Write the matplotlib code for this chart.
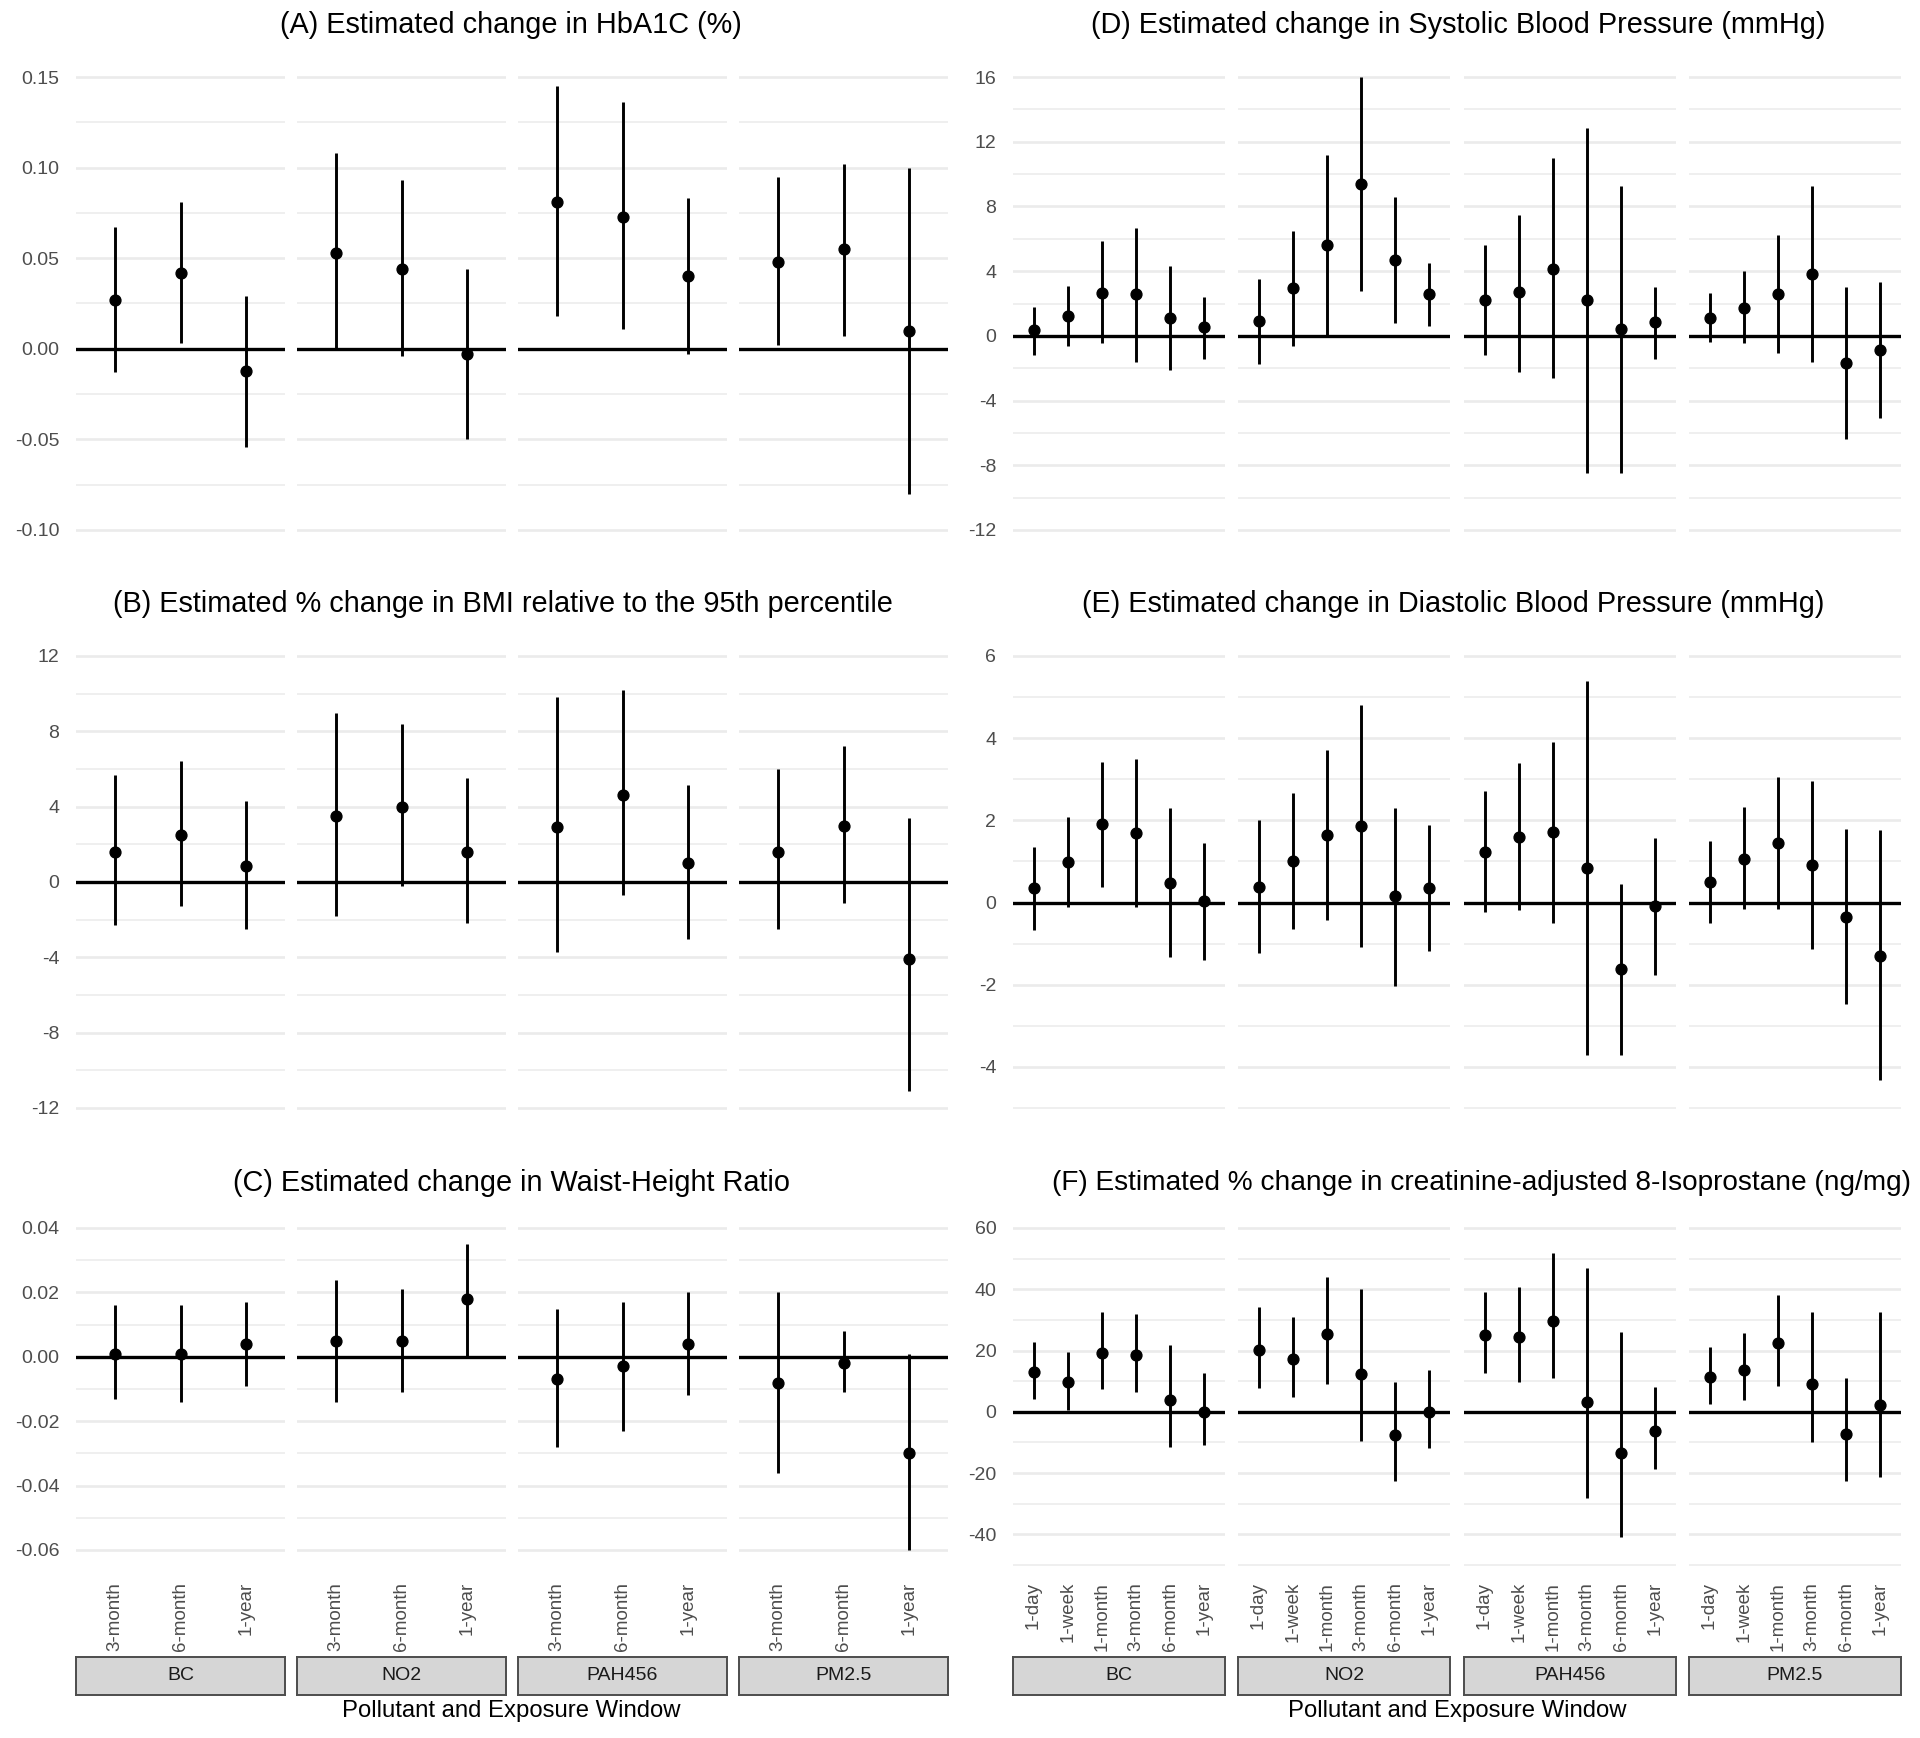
import matplotlib.pyplot as plt

plt.rcParams['font.family'] = ['Liberation Sans', 'DejaVu Sans']

pollutants = ['BC', 'NO2', 'PAH456', 'PM2.5']
win_long = ['3-month', '6-month', '1-year']
win_short = ['1-day', '1-week', '1-month', '3-month', '6-month', '1-year']

# (A) HbA1C, one row per pollutant, columns = win_long
hba1c_est = [[0.027, 0.042, -0.012], [0.053, 0.044, -0.003], [0.081, 0.073, 0.040], [0.048, 0.055, 0.010]]
hba1c_lo = [[-0.013, 0.003, -0.054], [0.000, -0.004, -0.050], [0.018, 0.011, -0.003], [0.002, 0.007, -0.080]]
hba1c_hi = [[0.067, 0.081, 0.029], [0.108, 0.093, 0.044], [0.145, 0.136, 0.083], [0.095, 0.102, 0.100]]

# (B) BMI % of 95th percentile
bmi_est = [[1.6, 2.5, 0.85], [3.5, 4.0, 1.6], [2.9, 4.6, 1.0], [1.6, 3.0, -4.1]]
bmi_lo = [[-2.3, -1.3, -2.5], [-1.8, -0.2, -2.2], [-3.7, -0.7, -3.0], [-2.5, -1.1, -11.1]]
bmi_hi = [[5.7, 6.4, 4.3], [9.0, 8.4, 5.5], [9.8, 10.2, 5.15], [6.0, 7.2, 3.4]]

# (C) Waist-height ratio
whr_est = [[0.001, 0.001, 0.004], [0.005, 0.005, 0.018], [-0.007, -0.003, 0.004], [-0.008, -0.002, -0.030]]
whr_lo = [[-0.013, -0.014, -0.009], [-0.014, -0.011, 0.000], [-0.028, -0.023, -0.012], [-0.036, -0.011, -0.060]]
whr_hi = [[0.016, 0.016, 0.017], [0.024, 0.021, 0.035], [0.015, 0.017, 0.020], [0.020, 0.008, 0.001]]

# (D) Systolic BP, columns = win_short
sbp_est = [[0.35, 1.2, 2.65, 2.6, 1.1, 0.55],
           [0.9, 2.95, 5.6, 9.4, 4.7, 2.6],
           [2.2, 2.7, 4.15, 2.2, 0.4, 0.85],
           [1.1, 1.75, 2.6, 3.85, -1.7, -0.85]]
sbp_lo = [[-1.2, -0.6, -0.45, -1.6, -2.1, -1.4],
          [-1.75, -0.6, 0.0, 2.8, 0.8, 0.6],
          [-1.2, -2.25, -2.6, -8.5, -8.5, -1.45],
          [-0.4, -0.45, -1.05, -1.6, -6.4, -5.1]]
sbp_hi = [[1.8, 3.1, 5.85, 6.65, 4.3, 2.4],
          [3.5, 6.5, 11.2, 16.0, 8.6, 4.5],
          [5.6, 7.5, 11.0, 12.85, 9.25, 3.05],
          [2.65, 4.0, 6.25, 9.25, 3.0, 3.35]]

# (E) Diastolic BP
dbp_est = [[0.35, 0.98, 1.9, 1.69, 0.48, 0.03],
           [0.39, 1.0, 1.65, 1.87, 0.15, 0.35],
           [1.24, 1.6, 1.71, 0.83, -1.62, -0.09],
           [0.5, 1.06, 1.44, 0.91, -0.35, -1.29]]
dbp_lo = [[-0.67, -0.1, 0.37, -0.1, -1.32, -1.39],
          [-1.23, -0.64, -0.43, -1.08, -2.02, -1.19],
          [-0.23, -0.19, -0.49, -3.71, -3.71, -1.77],
          [-0.49, -0.16, -0.15, -1.14, -2.48, -4.33]]
dbp_hi = [[1.36, 2.09, 3.41, 3.5, 2.3, 1.45],
          [2.0, 2.66, 3.72, 4.81, 2.3, 1.88],
          [2.72, 3.4, 3.9, 5.38, 0.46, 1.58],
          [1.5, 2.32, 3.06, 2.95, 1.78, 1.77]]

# (F) 8-Isoprostane % change
iso_est = [[13.1, 9.8, 19.3, 18.6, 3.7, 0.0],
           [20.2, 17.1, 25.4, 12.4, -7.7, 0.0],
           [25.2, 24.5, 29.6, 3.1, -13.5, -6.4],
           [11.3, 13.8, 22.4, 9.2, -7.3, 2.2]]
iso_lo = [[4.3, 0.6, 7.3, 6.5, -11.6, -10.8],
          [7.8, 4.9, 9.2, -9.5, -22.5, -11.9],
          [12.6, 9.8, 10.9, -28.1, -41.0, -18.7],
          [2.4, 3.7, 8.3, -10.0, -22.5, -21.4]]
iso_hi = [[22.9, 19.6, 32.7, 32.0, 21.9, 12.8],
          [34.1, 31.1, 44.0, 40.0, 9.8, 13.7],
          [39.1, 40.7, 51.9, 47.0, 26.1, 8.1],
          [21.2, 25.7, 38.2, 32.5, 10.9, 32.5]]

W, H = 1920, 1738
fig = plt.figure(figsize=(W / 100, H / 100), dpi=100)

def px_axes(x0, x1, y0, y1):
    return fig.add_axes([x0 / W, 1 - y1 / H, (x1 - x0) / W, (y1 - y0) / H])

cols = {'left': [(76, 285), (297, 506), (518, 727), (739, 948)],
        'right': [(1013, 1225), (1238, 1450), (1464, 1676), (1689, 1901)]}
rows = [(67, 540), (646, 1118), (1218, 1575)]

panels = [
    dict(title='(A) Estimated change in HbA1C (%)', col='left', row=0, tx=511,
         est=hba1c_est, lo=hba1c_lo, hi=hba1c_hi, wins=win_long,
         major=[0.15, 0.10, 0.05, 0.0, -0.05, -0.10], fmt='{:.2f}', cal=(0.15, 77, -0.10, 530)),
    dict(title='(B) Estimated % change in BMI relative to the 95th percentile', col='left', row=1, tx=503,
         est=bmi_est, lo=bmi_lo, hi=bmi_hi, wins=win_long,
         major=[12, 8, 4, 0, -4, -8, -12], fmt='{:d}', cal=(12, 656, -12, 1108)),
    dict(title='(C) Estimated change in Waist-Height Ratio', col='left', row=2, tx=511,
         est=whr_est, lo=whr_lo, hi=whr_hi, wins=win_long,
         major=[0.04, 0.02, 0.0, -0.02, -0.04, -0.06], fmt='{:.2f}', cal=(0.04, 1228, -0.06, 1550)),
    dict(title='(D) Estimated change in Systolic Blood Pressure (mmHg)', col='right', row=0, tx=1458,
         est=sbp_est, lo=sbp_lo, hi=sbp_hi, wins=win_short,
         major=[16, 12, 8, 4, 0, -4, -8, -12], fmt='{:d}', cal=(16, 77, -12, 530)),
    dict(title='(E) Estimated change in Diastolic Blood Pressure (mmHg)', col='right', row=1, tx=1453,
         est=dbp_est, lo=dbp_lo, hi=dbp_hi, wins=win_short,
         major=[6, 4, 2, 0, -2, -4], fmt='{:d}', cal=(6, 656, -5, 1108), extra_minor=[-5]),
    dict(title='(F) Estimated % change in creatinine-adjusted 8-Isoprostane (ng/mg)', col='right', row=2, tx=1482,
         est=iso_est, lo=iso_lo, hi=iso_hi, wins=win_short,
         major=[60, 40, 20, 0, -20, -40], fmt='{:d}', cal=(60, 1228, -50, 1565), extra_minor=[-50],
         tsize=20.2),
]

grid_c = '#EBEBEB'
for p in panels:
    y0, y1 = rows[p['row']]
    v1, p1, v2, p2 = p['cal']
    slope = (p2 - p1) / (v2 - v1)
    top = v1 + (y0 - p1) / slope
    bot = v1 + (y1 - p1) / slope
    major = p['major']
    minor = [(a + b) / 2 for a, b in zip(major[:-1], major[1:])] + p.get('extra_minor', [])
    n = len(p['wins'])
    xs = list(range(1, n + 1))
    for j, (x0, x1) in enumerate(cols[p['col']]):
        ax = px_axes(x0, x1, y0, y1)
        ax.set_xlim(0.4, n + 0.6)
        ax.set_ylim(bot, top)
        for s in ax.spines.values():
            s.set_visible(False)
        for m in major:
            ax.axhline(m, color=grid_c, lw=1.9, zorder=0)
        for m in minor:
            ax.axhline(m, color=grid_c, lw=1.1, zorder=0)
        ax.axhline(0, color='black', lw=2.4, zorder=1)
        ax.vlines(xs, p['lo'][j], p['hi'][j], color='black', lw=2.1, zorder=2)
        ax.plot(xs, p['est'][j], 'o', color='black', ms=7.8, zorder=3)
        ax.tick_params(length=0, labelsize=14, labelcolor='#4D4D4D', pad=12)
        ax.set_yticks(major)
        if j == 0:
            ax.set_yticklabels([p['fmt'].format(m) for m in major])
        else:
            ax.set_yticklabels([])
        ax.set_xticks(xs)
        if p['row'] == 2:
            ax.set_xticklabels(p['wins'], rotation=90, va='top', ha='center', fontsize=13.5)
            ax.tick_params(axis='x', pad=5)
            sax = px_axes(x0, x1, 1657, 1695)
            sax.set_facecolor('#D6D6D6')
            sax.set_xticks([])
            sax.set_yticks([])
            for s in sax.spines.values():
                s.set_color('#4D4D4D')
                s.set_linewidth(1.4)
            sax.text(0.5, 0.5, pollutants[j], ha='center', va='center', fontsize=14,
                     color='#1A1A1A', transform=sax.transAxes)
        else:
            ax.set_xticklabels([])
    ty = {0: 25, 1: 604, 2: 1183}[p['row']]
    fig.text(p['tx'] / W, 1 - ty / H, p['title'], ha='center', va='center',
             fontsize=p.get('tsize', 20.8))

fig.text(511 / W, 1 - 1711 / H, 'Pollutant and Exposure Window', ha='center', va='center', fontsize=17.2)
fig.text(1457 / W, 1 - 1711 / H, 'Pollutant and Exposure Window', ha='center', va='center', fontsize=17.2)

fig.savefig('out.png', dpi=100, facecolor='white')
